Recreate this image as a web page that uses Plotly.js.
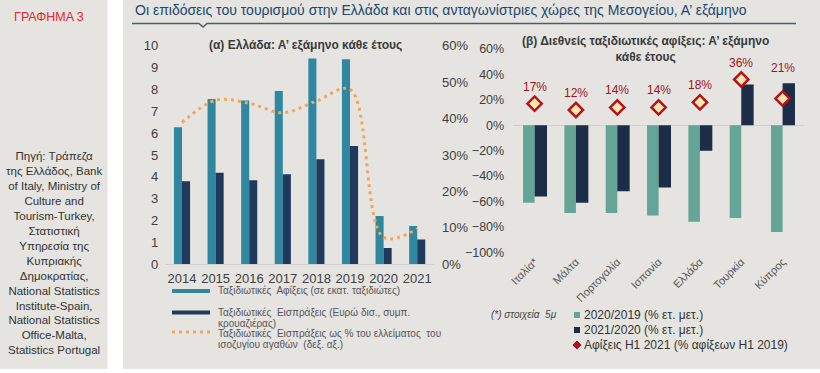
<!DOCTYPE html>
<html>
<head>
<meta charset="utf-8">
<script src="https://cdn.plot.ly/plotly-3.0.1.min.js"></script>
<style>
html,body{margin:0;padding:0;background:#fff;}
#chart{width:820px;height:373px;}
</style>
</head>
<body>
<div id="chart"></div>
<script>
// ---- Data: panel (α) Greece, H1 each year ----
var years = ['2014','2015','2016','2017','2018','2019','2020','2021'];
var arrivals = [6.27, 7.56, 7.49, 7.93, 9.42, 9.38, 2.21, 1.75];          // million travellers
var receipts = [3.80, 4.19, 3.84, 4.12, 4.80, 5.41, 0.75, 1.14];          // EUR bn
var receiptsPctDeficit = [38.9, 45.0, 44.2, 41.6, 44.8, 48.0, 7.4, 9.8];   // % of goods deficit

// ---- Data: panel (β) international arrivals ----
var countries = ['Ιταλία*', 'Μάλτα', 'Πορτογαλία', 'Ισπανία', 'Ελλάδα', 'Τουρκία', 'Κύπρος'];
var chg2020vs2019 = [-61, -69, -69, -71, -76, -73, -84];
var chg2021vs2020 = [-56, -61, -52, -49, -20, 32, 33];
var arrivalsH1_2021pct2019 = [17, 12, 14, 14, 18, 36, 21];
var labelShift = [17, 17, 17, 17, 17, 17, 31];   // label offsets above the diamonds (px)

var W = 820, H = 373;
function fx(p){ return p / W; }
function fy(p){ return 1 - p / H; }

var cTeal = '#2f87a0', cNavy = '#1f3a5c', cOrange = '#f2a55c';
var cGreen = '#64a596', cNavy2 = '#1c2e47', cRed = '#b5121b';
var bg = '#e5e4e0';
var fontFam = 'Liberation Sans, Arial, sans-serif';

var traces = [
  {type:'bar', x:years, y:arrivals, xaxis:'x', yaxis:'y', marker:{color:cTeal},
   width:0.24, offset:-0.24, showlegend:false, hoverinfo:'y'},
  {type:'bar', x:years, y:receipts, xaxis:'x', yaxis:'y', marker:{color:cNavy},
   width:0.24, offset:0, showlegend:false, hoverinfo:'y'},
  {type:'scatter', mode:'lines', x:years, y:receiptsPctDeficit, xaxis:'x', yaxis:'y2',
   line:{color:cOrange, width:3, dash:'3px,4px', shape:'spline', smoothing:1},
   showlegend:false, hoverinfo:'y'},
  {type:'bar', x:countries, y:chg2020vs2019, xaxis:'x3', yaxis:'y3', marker:{color:cGreen},
   width:0.28, offset:-0.28, showlegend:false, hoverinfo:'y'},
  {type:'bar', x:countries, y:chg2021vs2020, xaxis:'x3', yaxis:'y3', marker:{color:cNavy2},
   width:0.30, offset:0, showlegend:false, hoverinfo:'y'},
  {type:'scatter', mode:'markers', x:countries, y:arrivalsH1_2021pct2019, xaxis:'x3', yaxis:'y3',
   marker:{symbol:'diamond', size:11, color:'#fde7b0', line:{color:cRed, width:2.5}},
   showlegend:false, hoverinfo:'y'}
];

var shapes = [
  // backgrounds
  {type:'rect', xref:'paper', yref:'paper', x0:0, x1:fx(107.5), y0:fy(369), y1:1, fillcolor:bg, line:{width:0}, layer:'below'},
  {type:'rect', xref:'paper', yref:'paper', x0:fx(123), x1:1, y0:fy(369), y1:1, fillcolor:bg, line:{width:0}, layer:'below'},
  // title underline with notch
  {type:'path', xref:'paper', yref:'paper',
   path:'M '+fx(132)+' '+fy(23.5)+' L '+fx(199)+' '+fy(23.5)+' L '+fx(203)+' '+fy(27)+' L '+fx(207)+' '+fy(23.5)+' L '+fx(796)+' '+fy(23.5),
   line:{color:'#4d5b6e', width:1.5}},
  // left legend swatches
  {type:'line', xref:'paper', yref:'paper', x0:fx(172), x1:fx(210), y0:fy(291), y1:fy(291), line:{color:cTeal, width:4}},
  {type:'line', xref:'paper', yref:'paper', x0:fx(172), x1:fx(210), y0:fy(312.5), y1:fy(312.5), line:{color:cNavy, width:4}},
  {type:'line', xref:'paper', yref:'paper', x0:fx(172), x1:fx(210), y0:fy(332), y1:fy(332), line:{color:cOrange, width:3, dash:'3px,4px'}},
  // right legend swatches
  {type:'rect', xref:'paper', yref:'paper', x0:fx(574), x1:fx(580), y0:fy(318), y1:fy(312), fillcolor:cGreen, line:{width:0}},
  {type:'rect', xref:'paper', yref:'paper', x0:fx(574), x1:fx(580), y0:fy(333), y1:fy(327), fillcolor:cNavy2, line:{width:0}}
];

function ann(x, y, text, opts){
  var a = {xref:'paper', yref:'paper', x:fx(x), y:fy(y), text:text, showarrow:false,
           xanchor:'left', yanchor:'middle', font:{family:fontFam, size:10, color:'#555'}};
  for (var k in opts) a[k] = opts[k];
  return a;
}

var sourceLines = ['Πηγή: Τράπεζα','της Ελλάδος, Bank','of Italy, Ministry of','Culture and','Tourism-Turkey,',
  'Στατιστική','Υπηρεσία της','Κυπριακής','Δημοκρατίας,','National Statistics','Institute-Spain,',
  'National Statistics','Office-Malta,','Statistics Portugal'];

var annotations = [
  ann(12, 17, 'ΓΡΑΦΗΜΑ 3', {font:{family:fontFam, size:12.5, color:'#e3262b'}}),
  ann(133, 10, 'Οι επιδόσεις του τουρισμού στην Ελλάδα και στις ανταγωνίστριες χώρες της Μεσογείου, Α\u2019 εξάμηνο',
      {font:{family:fontFam, size:14, color:'#22466e'}}),
  ann(305, 45, '(α) Ελλάδα: Α\u2019 εξάμηνο κάθε έτους',
      {xanchor:'center', font:{family:fontFam, size:12, color:'#3a3a3a', weight:'bold'}}),
  ann(645, 49.5, '(β) Διεθνείς ταξιδιωτικές αφίξεις: Α\u2019 εξάμηνο<br>κάθε έτους',
      {xanchor:'center', align:'center', font:{family:fontFam, size:12, color:'#3a3a3a', weight:'bold'}}),
  // left legend texts
  ann(216, 291, 'Ταξιδιωτικές  Αφίξεις (σε εκατ. ταξιδιώτες)'),
  ann(216, 312.5, 'Ταξιδιωτικές  Εισπράξεις (Ευρώ δισ., συμπ.'),
  ann(216, 323.5, 'κρουαζιέρας)'),
  ann(216, 333.5, 'Ταξιδιωτικές  Εισπράξεις ως % του ελλείματος  του'),
  ann(216, 345, 'ισοζυγίου αγαθών  (δεξ. αξ.)'),
  // right legend
  ann(489, 314, '<i>(*) στοιχεία  5μ</i>', {font:{family:fontFam, size:10, color:'#444'}}),
  ann(582, 315, '2020/2019 (% ετ. μετ.)', {font:{family:fontFam, size:12, color:'#333'}}),
  ann(582, 330, '2021/2020 (% ετ. μετ.)', {font:{family:fontFam, size:12, color:'#333'}}),
  ann(582, 345, 'Αφίξεις Η1 2021 (% αφίξεων Η1 2019)', {font:{family:fontFam, size:12, color:'#333'}}),
  // source text
  ann(54, 253, sourceLines.join('<br>'), {xanchor:'center', align:'center',
      font:{family:fontFam, size:11.5, color:'#333'}})
];

// diamond value labels, anchored to the data points
countries.forEach(function(c, i){
  annotations.push({xref:'x3', yref:'y3', x:c, y:arrivalsH1_2021pct2019[i],
    text:arrivalsH1_2021pct2019[i] + '%', showarrow:false, yshift:labelShift[i],
    xanchor:'center', yanchor:'middle', font:{family:fontFam, size:12, color:'#9e1320'}});
});

// diamond legend marker as a small path
shapes.push({type:'path', xref:'paper', yref:'paper',
  path:'M '+fx(577)+' '+fy(341)+' L '+fx(581)+' '+fy(345)+' L '+fx(577)+' '+fy(349)+' L '+fx(573)+' '+fy(345)+' Z',
  fillcolor:cRed, line:{color:cRed, width:1}});

var tickFont = {family:fontFam, size:13, color:'#404040'};

var layout = {
  width:W, height:H,
  margin:{l:0, r:0, t:0, b:0},
  paper_bgcolor:'#ffffff',
  plot_bgcolor:'rgba(0,0,0,0)',
  barmode:'overlay',
  showlegend:false,
  font:{family:fontFam},
  xaxis:{domain:[fx(165.2), fx(434)], anchor:'y', type:'category', showgrid:false, zeroline:false,
         showline:true, linecolor:'#cfcfcf', linewidth:1, ticks:'', tickfont:tickFont, ticklabelstandoff:2,
         fixedrange:true},
  yaxis:{domain:[fy(264.3), fy(45.7)], anchor:'x', range:[0,10], dtick:1, showgrid:false, zeroline:false,
         ticks:'', tickfont:tickFont, ticklabelstandoff:6, fixedrange:true},
  yaxis2:{overlaying:'y', side:'right', anchor:'x', range:[0,60], dtick:10, ticksuffix:'%',
          showgrid:false, zeroline:false, ticks:'', tickfont:tickFont, ticklabelstandoff:7, fixedrange:true},
  xaxis3:{domain:[fx(513.2), fx(804)], anchor:'y3', type:'category', showgrid:false, zeroline:false,
          showline:false, ticks:'', tickangle:-45, tickfont:{family:fontFam, size:11, color:'#555'},
          ticklabelstandoff:0, fixedrange:true},
  yaxis3:{domain:[fy(252.3), fy(49)], anchor:'x3', range:[-100,60], dtick:20, ticksuffix:'%',
          showgrid:false, zeroline:true, zerolinecolor:'#d0d0d0', zerolinewidth:1,
          ticks:'', tickfont:{family:fontFam, size:12.5, color:'#404040'}, ticklabelstandoff:8, fixedrange:true},
  shapes:shapes,
  annotations:annotations
};

Plotly.newPlot('chart', traces, layout, {displayModeBar:false, staticPlot:true});
</script>
</body>
</html>
